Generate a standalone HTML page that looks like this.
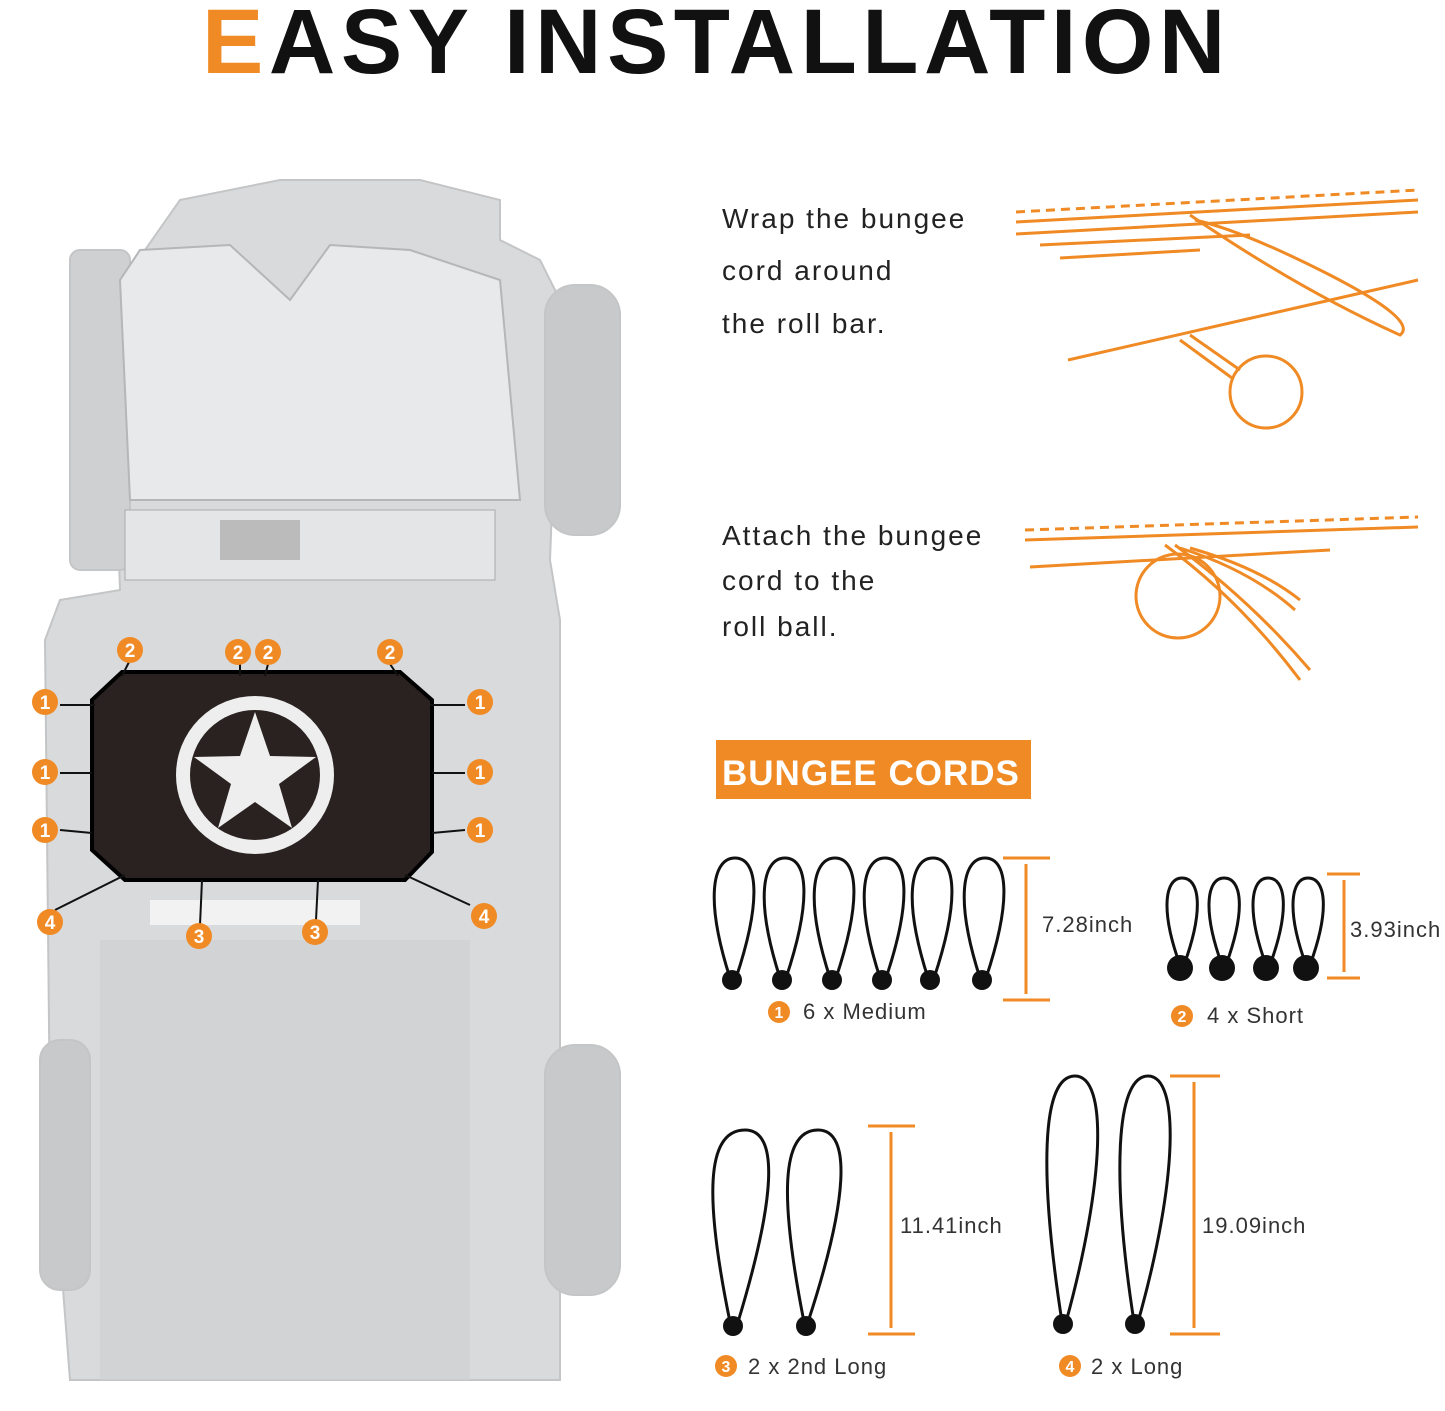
<!DOCTYPE html>
<html><head><meta charset="utf-8"><style>
body{margin:0;background:#fff;width:1445px;height:1406px;overflow:hidden;font-family:"Liberation Sans","DejaVu Sans",sans-serif}
</style></head><body>
<svg width="1445" height="1406" viewBox="0 0 1445 1406" xmlns="http://www.w3.org/2000/svg" font-family="Liberation Sans, DejaVu Sans, sans-serif">
<defs>
<g id="b"><circle r="13" fill="#f08a24"/></g>
</defs>
<text x="202" y="73" font-size="92" font-weight="bold" fill="#111" letter-spacing="5.5"><tspan fill="#f08a24">E</tspan>ASY INSTALLATION</text>

<!-- jeep body -->
<g fill="#d9dadb" stroke="#c4c5c6" stroke-width="2">
<path d="M180 200 L280 180 L420 180 L500 200 L500 240 L540 260 L560 300 L550 560 L560 620 L560 1380 L70 1380 L50 1120 L45 640 L60 600 L120 590 L110 300 Z"/>
<rect x="70" y="250" width="60" height="320" rx="10" fill="#cfd0d1"/>
<rect x="545" y="285" width="75" height="250" rx="30" fill="#c8c9ca"/>
<rect x="545" y="1045" width="75" height="250" rx="30" fill="#c8c9ca"/>
<rect x="40" y="1040" width="50" height="250" rx="20" fill="#c8c9ca"/>
</g>
<path d="M140 250 L230 245 L290 300 L330 245 L410 250 L500 280 L520 500 L130 500 L120 280Z" fill="#e8e9ea" stroke="#b5b6b7" stroke-width="2"/>
<rect x="125" y="510" width="370" height="70" fill="#e4e5e6" stroke="#aaa"/>
<rect x="220" y="520" width="80" height="40" fill="#bbb"/>
<rect x="100" y="940" width="370" height="440" fill="#cfd0d1" opacity="0.7"/>
<rect x="150" y="900" width="210" height="25" fill="#f2f2f2"/>

<!-- mesh -->
<path d="M122 672 L400 672 L432 700 L432 852 L405 880 L125 880 L92 850 L92 700 Z" fill="#2a2220" stroke="#000" stroke-width="4"/>
<circle cx="255" cy="775" r="72" fill="none" stroke="#eee" stroke-width="14"/>
<polygon points="255,712 270,756 316,757 279,784 292,828 255,802 218,828 231,784 194,757 240,756" fill="#eee"/>
<g stroke="#111" stroke-width="2">
<line x1="130" y1="660" x2="122" y2="676"/><line x1="240" y1="664" x2="240" y2="676"/><line x1="268" y1="664" x2="265" y2="676"/><line x1="390" y1="664" x2="398" y2="676"/>
<line x1="60" y1="705" x2="95" y2="705"/><line x1="60" y1="773" x2="92" y2="773"/><line x1="60" y1="830" x2="92" y2="833"/>
<line x1="430" y1="705" x2="465" y2="705"/><line x1="432" y1="773" x2="465" y2="773"/><line x1="432" y1="833" x2="465" y2="830"/>
<line x1="125" y1="875" x2="55" y2="910"/><line x1="405" y1="875" x2="470" y2="905"/>
<line x1="202" y1="880" x2="200" y2="925"/><line x1="318" y1="880" x2="316" y2="920"/>
</g>
<g font-size="19" font-weight="bold" fill="#fff" text-anchor="middle">
<g transform="translate(130,650)"><use href="#b"/><text y="7">2</text></g>
<g transform="translate(238,652)"><use href="#b"/><text y="7">2</text></g>
<g transform="translate(268,652)"><use href="#b"/><text y="7">2</text></g>
<g transform="translate(390,652)"><use href="#b"/><text y="7">2</text></g>
<g transform="translate(45,702)"><use href="#b"/><text y="7">1</text></g>
<g transform="translate(45,772)"><use href="#b"/><text y="7">1</text></g>
<g transform="translate(45,830)"><use href="#b"/><text y="7">1</text></g>
<g transform="translate(480,702)"><use href="#b"/><text y="7">1</text></g>
<g transform="translate(480,772)"><use href="#b"/><text y="7">1</text></g>
<g transform="translate(480,830)"><use href="#b"/><text y="7">1</text></g>
<g transform="translate(50,922)"><use href="#b"/><text y="7">4</text></g>
<g transform="translate(484,916)"><use href="#b"/><text y="7">4</text></g>
<g transform="translate(199,936)"><use href="#b"/><text y="7">3</text></g>
<g transform="translate(315,932)"><use href="#b"/><text y="7">3</text></g>
</g>

<!-- text right -->
<g font-size="28" fill="#222" letter-spacing="2">
<text x="722" y="228">Wrap the bungee</text><text x="722" y="280">cord around</text><text x="722" y="333">the roll bar.</text>
<text x="722" y="545">Attach the bungee</text><text x="722" y="590">cord to the</text><text x="722" y="636">roll ball.</text>
</g>
<!-- orange diagrams -->
<g stroke="#f08a24" stroke-width="3" fill="none">
<line x1="1016" y1="212" x2="1418" y2="190" stroke-dasharray="9 6"/>
<line x1="1016" y1="222" x2="1418" y2="200"/>
<line x1="1016" y1="234" x2="1418" y2="212"/>
<line x1="1040" y1="245" x2="1250" y2="235"/>
<line x1="1060" y1="258" x2="1200" y2="250"/>
<path d="M1190 215 Q1300 290 1400 335 Q1420 320 1320 270 Q1240 230 1195 220"/>
<line x1="1068" y1="360" x2="1418" y2="280"/>
<line x1="1190" y1="335" x2="1240" y2="370"/><line x1="1180" y1="340" x2="1232" y2="378"/>
<circle cx="1266" cy="392" r="36"/>
<line x1="1025" y1="530" x2="1418" y2="517" stroke-dasharray="9 6"/>
<line x1="1025" y1="540" x2="1418" y2="527"/>
<line x1="1030" y1="567" x2="1330" y2="550"/>
<path d="M1165 545 Q1240 600 1300 680"/><path d="M1175 545 Q1250 600 1310 670"/>
<path d="M1180 548 Q1250 570 1295 610"/><path d="M1190 548 Q1260 568 1300 600"/>
<circle cx="1178" cy="596" r="42"/>
</g>
<rect x="716" y="740" width="315" height="59" fill="#f08a24"/>
<text x="722" y="785" font-size="35" font-weight="bold" fill="#fff" letter-spacing="1">BUNGEE CORDS</text>

<!-- cords -->
<g stroke="#111" stroke-width="3" fill="none">
<path d="M730 978 C705 900 712 858 735 858 C758 858 762 900 736 978"/>
<path d="M780 978 C755 900 762 858 785 858 C808 858 812 900 786 978"/>
<path d="M830 978 C805 900 812 858 835 858 C858 858 862 900 836 978"/>
<path d="M880 978 C855 900 862 858 885 858 C908 858 912 900 886 978"/>
<path d="M928 978 C903 900 910 858 933 858 C956 858 960 900 934 978"/>
<path d="M980 978 C955 900 962 858 985 858 C1008 858 1012 900 986 978"/>
<path d="M1180 965 C1160 910 1165 878 1182 878 C1200 878 1204 910 1184 965"/>
<path d="M1222 965 C1202 910 1207 878 1224 878 C1242 878 1246 910 1226 965"/>
<path d="M1266 965 C1246 910 1251 878 1268 878 C1286 878 1290 910 1270 965"/>
<path d="M1306 965 C1286 910 1291 878 1308 878 C1326 878 1330 910 1310 965"/>
<path d="M730 1322 C705 1200 705 1130 745 1130 C780 1130 775 1200 738 1322"/>
<path d="M804 1322 C780 1200 780 1130 818 1130 C852 1130 848 1200 808 1322"/>
<path d="M1062 1322 C1040 1180 1040 1076 1075 1076 C1108 1076 1105 1180 1066 1322"/>
<path d="M1134 1322 C1112 1180 1115 1076 1148 1076 C1180 1076 1178 1180 1138 1322"/>
</g>
<g fill="#111">
<circle cx="732" cy="980" r="10"/><circle cx="782" cy="980" r="10"/><circle cx="832" cy="980" r="10"/><circle cx="882" cy="980" r="10"/><circle cx="930" cy="980" r="10"/><circle cx="982" cy="980" r="10"/>
<circle cx="1180" cy="968" r="13"/><circle cx="1222" cy="968" r="13"/><circle cx="1266" cy="968" r="13"/><circle cx="1306" cy="968" r="13"/>
<circle cx="733" cy="1326" r="10"/><circle cx="806" cy="1326" r="10"/><circle cx="1063" cy="1324" r="10"/><circle cx="1135" cy="1324" r="10"/>
</g>
<g stroke="#f08a24" stroke-width="3" fill="#f08a24">
<line x1="1003" y1="858" x2="1050" y2="858"/><line x1="1003" y1="1000" x2="1050" y2="1000"/><line x1="1026" y1="864" x2="1026" y2="994"/>
<line x1="1327" y1="874" x2="1360" y2="874"/><line x1="1327" y1="978" x2="1360" y2="978"/><line x1="1344" y1="880" x2="1344" y2="972"/>
<line x1="868" y1="1126" x2="915" y2="1126"/><line x1="868" y1="1334" x2="915" y2="1334"/><line x1="891" y1="1132" x2="891" y2="1328"/>
<line x1="1170" y1="1076" x2="1220" y2="1076"/><line x1="1170" y1="1334" x2="1220" y2="1334"/><line x1="1194" y1="1082" x2="1194" y2="1328"/>
</g>
<g font-size="22" fill="#333" letter-spacing="1">
<text x="1042" y="932">7.28inch</text><text x="1350" y="937">3.93inch</text>
<text x="900" y="1233">11.41inch</text><text x="1202" y="1233">19.09inch</text>
<text x="803" y="1019">6 x Medium</text><text x="1207" y="1023">4 x Short</text>
<text x="748" y="1374">2 x 2nd Long</text><text x="1091" y="1374">2 x Long</text>
</g>
<g font-size="16" font-weight="bold" fill="#fff" text-anchor="middle">
<circle cx="779" cy="1012" r="11" fill="#f08a24"/><text x="779" y="1018">1</text>
<circle cx="1182" cy="1016" r="11" fill="#f08a24"/><text x="1182" y="1022">2</text>
<circle cx="726" cy="1366" r="11" fill="#f08a24"/><text x="726" y="1372">3</text>
<circle cx="1070" cy="1366" r="11" fill="#f08a24"/><text x="1070" y="1372">4</text>
</g>
</svg>
</body></html>
